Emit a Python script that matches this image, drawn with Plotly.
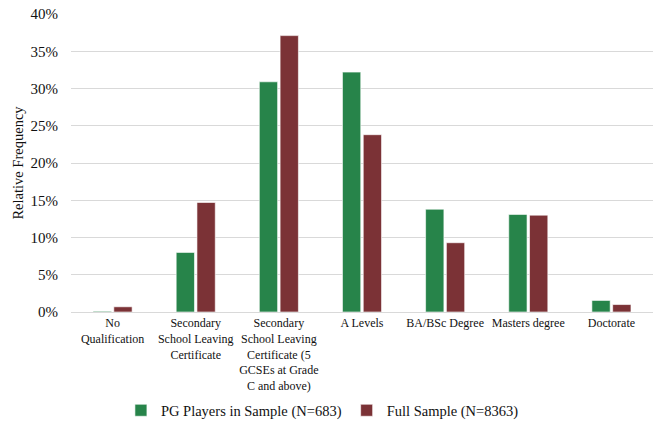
import plotly.graph_objects as go

# Highest qualification categories (x-axis)
categories = [
    "No<br>Qualification",
    "Secondary<br>School Leaving<br>Certificate",
    "Secondary<br>School Leaving<br>Certificate (5<br>GCSEs at Grade<br>C and above)",
    "A Levels",
    "BA/BSc Degree",
    "Masters degree",
    "Doctorate",
]

# Relative frequencies (fractions)
pg_players = [0.001, 0.080, 0.309, 0.322, 0.138, 0.131, 0.0155]
full_sample = [0.007, 0.147, 0.371, 0.238, 0.093, 0.130, 0.010]

series_names = ["PG Players in Sample (N=683)", "Full Sample (N=8363)"]
colors = ["#27844a", "#7b3236"]

FONT = "Liberation Serif"

fig = go.Figure()
for name, vals, col in zip(series_names, [pg_players, full_sample], colors):
    fig.add_trace(go.Bar(
        x=categories, y=vals, name=name,
        marker=dict(color=col, line=dict(color="rgba(255,255,255,0.6)", width=1)),
    ))

fig.update_layout(
    width=656, height=421,
    margin=dict(l=71, r=3, t=14, b=109, autoexpand=False),
    paper_bgcolor="white", plot_bgcolor="white",
    font=dict(family=FONT, size=13, color="#111111"),
    barmode="group", bargap=0.5, bargroupgap=0.12,
    showlegend=True,
    legend=dict(
        orientation="h", x=0.432, xanchor="center", y=-0.33, yanchor="middle",
        font=dict(family=FONT, size=14.5, color="#111111"),
        itemwidth=30, traceorder="normal",
    ),
)
fig.update_xaxes(
    automargin=False,
    showgrid=False, showline=True, linecolor="#d9d9d9", linewidth=1,
    tickangle=0, tickfont=dict(family=FONT, size=12), ticks="",
)
fig.update_yaxes(
    automargin=False,
    range=[0, 0.4], dtick=0.05, tickformat=".0%",
    showgrid=True, gridcolor="#d9d9d9", gridwidth=1,
    zeroline=False, showline=False, ticks="",
    ticklabelstandoff=12,
    tickfont=dict(family=FONT, size=15),
    title=dict(text="Relative Frequency", font=dict(family=FONT, size=14.5), standoff=3),
)

fig.write_html("out.html")
